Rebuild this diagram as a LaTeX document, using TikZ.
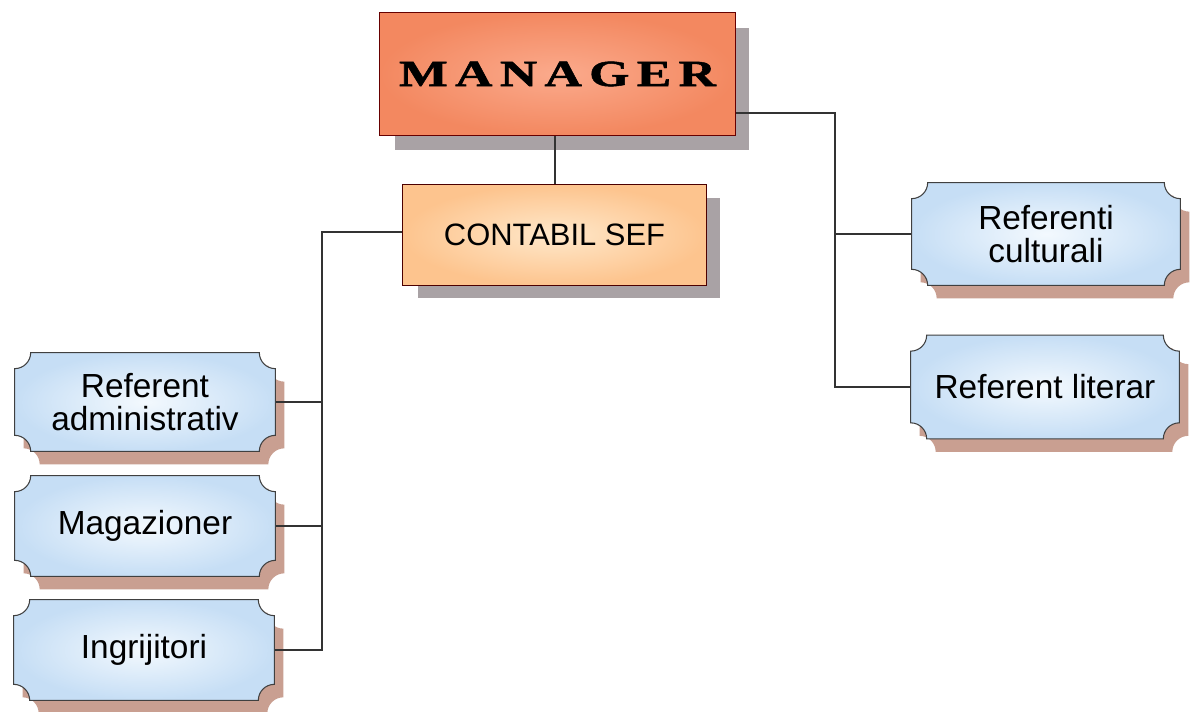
\documentclass[tikz,border=0pt]{standalone}
\usepackage{fontspec}
\setmainfont{Liberation Sans}
\newfontfamily\mgrfont[BoldFeatures={FakeBold=1.2}]{Liberation Serif}
\usetikzlibrary{calc}
\definecolor{bluein}{HTML}{F3F9FE}
\definecolor{blueout}{HTML}{C6DEF5}
\definecolor{pinkshadow}{HTML}{C99F91}
\definecolor{greyshadow}{HTML}{A9A2A5}
\definecolor{mgrin}{HTML}{FBAA8C}
\definecolor{mgrout}{HTML}{F38860}
\definecolor{ctbin}{HTML}{FFE8CA}
\definecolor{ctbout}{HTML}{FDC48E}
\pgfdeclarelayer{bglayer}
\pgfdeclarelayer{shadowlayer}
\pgfdeclarelayer{linelayer}
\pgfdeclarelayer{boxlayer}
\pgfsetlayers{bglayer,shadowlayer,linelayer,boxlayer,main}
\def\rr{0.32cm}
% notched box path: #1 node, #2 dx, #3 dy, #4 style
\newcommand\notchpath[4]{%
  \path[#4] let \p1=(#1.south west), \p2=(#1.north east) in
    ([shift={(#2,#3)}]\x1+\rr,\y1) -- ([shift={(#2,#3)}]\x2-\rr,\y1)
    arc[start angle=180,end angle=90,radius=\rr]
    -- ([shift={(#2,#3)}]\x2,\y2-\rr)
    arc[start angle=270,end angle=180,radius=\rr]
    -- ([shift={(#2,#3)}]\x1+\rr,\y2)
    arc[start angle=0,end angle=-90,radius=\rr]
    -- ([shift={(#2,#3)}]\x1,\y1+\rr)
    arc[start angle=90,end angle=0,radius=\rr]
    -- cycle;}
\begin{document}
\begin{tikzpicture}[x=0.02cm,y=-0.02cm,
  lbl/.style={inner sep=0pt,align=center,font=\fontsize{19}{18.5}\selectfont},
  bluebox/.style={shade,inner color=bluein,outer color=blueout,draw=black!75,line width=0.6pt},
  pinkshade/.style={fill=pinkshadow},
  greyshade/.style={fill=greyshadow},
  conn/.style={draw=black!80,line width=0.7pt}]
\begin{pgfonlayer}{bglayer}
\fill[white] (0,0) rectangle (1191,712);
\end{pgfonlayer}
\useasboundingbox (0,0) rectangle (1191,712);

% text nodes (box areas)
\node[lbl,minimum width=7.1cm,minimum height=2.44cm] (mgr) at (557.5,74)
  {\mgrfont\bfseries\fontsize{21}{22}\selectfont\scalebox{1.4}[1]{M\kern3pt A\kern3pt N\kern3pt A\kern3pt G\kern3pt E\kern3pt R}};
\node[lbl,minimum width=6.06cm,minimum height=2.0cm,font=\fontsize{17.6}{20}\selectfont] (ctb) at (554.5,235) {CONTABIL SEF};
\node[lbl,minimum width=5.36cm,minimum height=2.04cm] (cult) at (1046,234) {Referenti\\culturali};
\node[lbl,minimum width=5.36cm,minimum height=2.06cm] (lit) at (1045,387) {Referent literar};
\node[lbl,minimum width=5.2cm,minimum height=1.96cm] (adm) at (145,402) {Referent\\administrativ};
\node[lbl,minimum width=5.2cm,minimum height=2.0cm] (mag) at (145,526) {Magazioner};
\node[lbl,minimum width=5.2cm,minimum height=2.0cm] (ingr) at (144,650) {Ingrijitori};

% shadows
\begin{pgfonlayer}{shadowlayer}
  \fill[greyshadow] ([shift={(0.3cm,-0.3cm)}]mgr.south west) rectangle ([shift={(0.28cm,-0.3cm)}]mgr.north east);
  \fill[greyshadow] ([shift={(0.3cm,-0.26cm)}]ctb.south west) rectangle ([shift={(0.28cm,-0.26cm)}]ctb.north east);
  \notchpath{cult}{0.18cm}{-0.26cm}{pinkshade}
  \notchpath{lit}{0.18cm}{-0.26cm}{pinkshade}
  \notchpath{adm}{0.18cm}{-0.26cm}{pinkshade}
  \notchpath{mag}{0.18cm}{-0.26cm}{pinkshade}
  \notchpath{ingr}{0.18cm}{-0.26cm}{pinkshade}
\end{pgfonlayer}

% connectors
\begin{pgfonlayer}{linelayer}
  \coordinate (rtop) at (835,113);
  \coordinate (ltop) at (322,232);
  \draw[conn] (ctb.north -| 555,0) -- (mgr.south -| 555,0);
  \draw[conn] (mgr.east |- rtop) -- (rtop) -- (rtop |- lit.west) -- (lit.west);
  \draw[conn] (rtop |- cult.west) -- (cult.west);
  \draw[conn] (ctb.west |- ltop) -- (ltop) -- (ltop |- ingr.east) -- (ingr.east);
  \draw[conn] (ltop |- adm.east) -- (adm.east);
  \draw[conn] (ltop |- mag.east) -- (mag.east);
\end{pgfonlayer}

% boxes
\begin{pgfonlayer}{boxlayer}
  \shade[inner color=mgrin,outer color=mgrout,draw=red!40!black,line width=0.6pt] (mgr.south west) rectangle (mgr.north east);
  \shade[inner color=ctbin,outer color=ctbout,draw=red!30!black,line width=0.6pt] (ctb.south west) rectangle (ctb.north east);
  \notchpath{cult}{0cm}{0cm}{bluebox}
  \notchpath{lit}{0cm}{0cm}{bluebox}
  \notchpath{adm}{0cm}{0cm}{bluebox}
  \notchpath{mag}{0cm}{0cm}{bluebox}
  \notchpath{ingr}{0cm}{0cm}{bluebox}
\end{pgfonlayer}
\end{tikzpicture}
\end{document}
